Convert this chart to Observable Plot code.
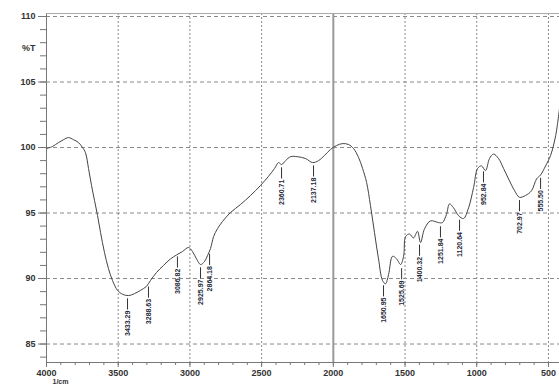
<!DOCTYPE html>
<html>
<head>
<meta charset="utf-8">
<script src="https://cdn.jsdelivr.net/npm/d3@7"></script>
<script src="https://cdn.jsdelivr.net/npm/@observablehq/plot@0.6"></script>
<style>
  html, body { margin: 0; padding: 0; background: #fff; }
  svg { display: block; }
</style>
</head>
<body>
<div id="chart"></div>
<script>
// Spectrum (wavenumber in 1/cm, transmittance in %T)
const wavenumbers = [4000,3958,3916,3881,3847,3812,3777,3749,3728,3707,3686,3665,3644,3623,3596,3568,3540,3505,3470,3428,3386,3344,3303,3275,3233,3184,3135,3093,3052,3010,2982,2954,2926,2898,2877,2856,2835,2808,2773,2717,2647,2577,2508,2452,2410,2382,2361,2333,2298,2250,2194,2145,2103,2061,2020,1978,1936,1894,1859,1824,1796,1768,1741,1713,1685,1657,1636,1615,1587,1559,1531,1510,1496,1469,1441,1413,1392,1364,1322,1266,1239,1211,1190,1162,1127,1092,1057,1022,994,967,939,911,883,848,813,778,736,702,660,618,583,555,520,485,450,423];
const transmittance = [99.92,100.08,100.38,100.6,100.76,100.6,100.38,100.0,99.6,98.4,97.1,95.95,94.8,93.5,92.0,90.76,89.85,89.1,88.8,88.7,88.85,89.1,89.4,89.85,90.46,91.0,91.5,91.8,92.06,92.37,92.06,91.5,91.07,91.3,91.76,92.3,93.2,93.8,94.35,95.04,95.65,96.34,97.1,97.8,98.4,98.85,98.7,99.0,99.3,99.3,99.16,98.85,99.0,99.4,99.85,100.15,100.3,100.23,99.92,99.24,98.4,97.33,95.57,93.5,91.5,89.85,89.6,90.3,91.7,91.5,91.07,91.7,93.2,93.4,93.1,93.6,92.75,93.8,94.4,94.27,94.27,94.9,95.7,95.4,94.8,94.58,95.4,96.95,98.4,98.6,98.24,99.16,99.5,99.16,98.4,97.6,96.7,96.2,96.34,96.7,97.6,97.9,98.6,99.4,100.9,102.97];

// Peak picks
const peakWavenumbers = [3435,3289,3087,2926,2863,2361,2138,1650,1524,1399,1253,1120,953,702,555];
const peakTransmittance = [88.7,89.6,91.9,91.07,92.1,98.7,98.85,89.7,91.0,92.8,94.2,94.7,98.4,96.2,97.9];
const peakLabels = ["3433.29","3288.63","3086.82","2925.97","2864.18","2360.71","2137.18","1650.95","1525.69","1400.32","1251.84","1120.64","952.84","702.97","555.50"];

// Axis ticks
const xMajorTicks = [4000,3500,3000,2500,2000,1500,1000,500];
const xMinorTicks = d3.range(4000, 420, -100);
const yMajorTicks = [85,90,95,100,105,110];
const yMinorTicks = d3.range(84, 111, 1);

const spectrum = wavenumbers.map((w, i) => ({w, t: transmittance[i]}));
const peaks = peakWavenumbers.map((w, i) => ({w, t: peakTransmittance[i], label: peakLabels[i]}));

const xDom = [4000, 423];
const yDom = [83.59, 110.23];
const axisFont = {fontSize: 9, fontWeight: "bold", fill: "#333"};

const chart = Plot.plot({
  width: 559,
  height: 385,
  marginLeft: 46,
  marginRight: 0,
  marginTop: 13,
  marginBottom: 23,
  style: {fontFamily: "Liberation Sans, Arial, sans-serif", background: "#fff", overflow: "visible"},
  x: {domain: xDom, axis: null, label: null},
  y: {domain: yDom, axis: null, label: null},
  marks: [
    // grid
    Plot.ruleY(yMajorTicks, {stroke: "#8a8a8a", strokeDasharray: "4,3", strokeWidth: 1}),
    Plot.ruleX(xMajorTicks.filter(d => d !== 2000 && d !== 4000), {stroke: "#8a8a8a", strokeDasharray: "2,2", strokeWidth: 1}),
    Plot.ruleX([2000], {stroke: "#9a9a9a", strokeWidth: 2}),
    // frame
    Plot.ruleX([4000], {stroke: "#777"}),
    Plot.ruleY([yDom[1]], {stroke: "#aaa"}),
    Plot.ruleY([yDom[0]], {stroke: "#777"}),
    // axes
    Plot.axisY({ticks: yMinorTicks, tickSize: 6, text: null, label: null, stroke: "#777"}),
    Plot.axisY({ticks: yMajorTicks, tickSize: 8, tickPadding: 3, label: null, tickFormat: d => String(d), stroke: "#777", ...axisFont}),
    Plot.axisX({ticks: xMinorTicks, tickSize: 3, text: null, label: null, stroke: "#777"}),
    Plot.axisX({ticks: xMajorTicks, tickSize: 5, tickPadding: 2, label: null, tickFormat: d => String(d), stroke: "#777", ...axisFont}),
    Plot.text(["%T"], {x: 4000, y: 107.6, text: d => d, dx: -11, textAnchor: "end", ...axisFont}),
    Plot.text(["1/cm"], {x: 4000, y: yDom[0], text: d => d, dx: 14, dy: 19, fontSize: 7, fontWeight: "bold", fill: "#333"}),
    // spectrum
    Plot.line(spectrum, {x: "w", y: "t", stroke: "#444", strokeWidth: 1, curve: "catmull-rom"}),
    // peak picks
    Plot.ruleX(peaks, {x: "w", y1: d => d.t - 0.25, y2: d => d.t - 1.1, stroke: "#333", strokeWidth: 1}),
    Plot.text(peaks, {x: "w", y: d => d.t - 1.15, text: "label", rotate: -90, textAnchor: "end", fontSize: 7, fontWeight: "bold", fill: "#1f2a3a"})
  ]
});
document.getElementById("chart").appendChild(chart);
</script>
</body>
</html>
